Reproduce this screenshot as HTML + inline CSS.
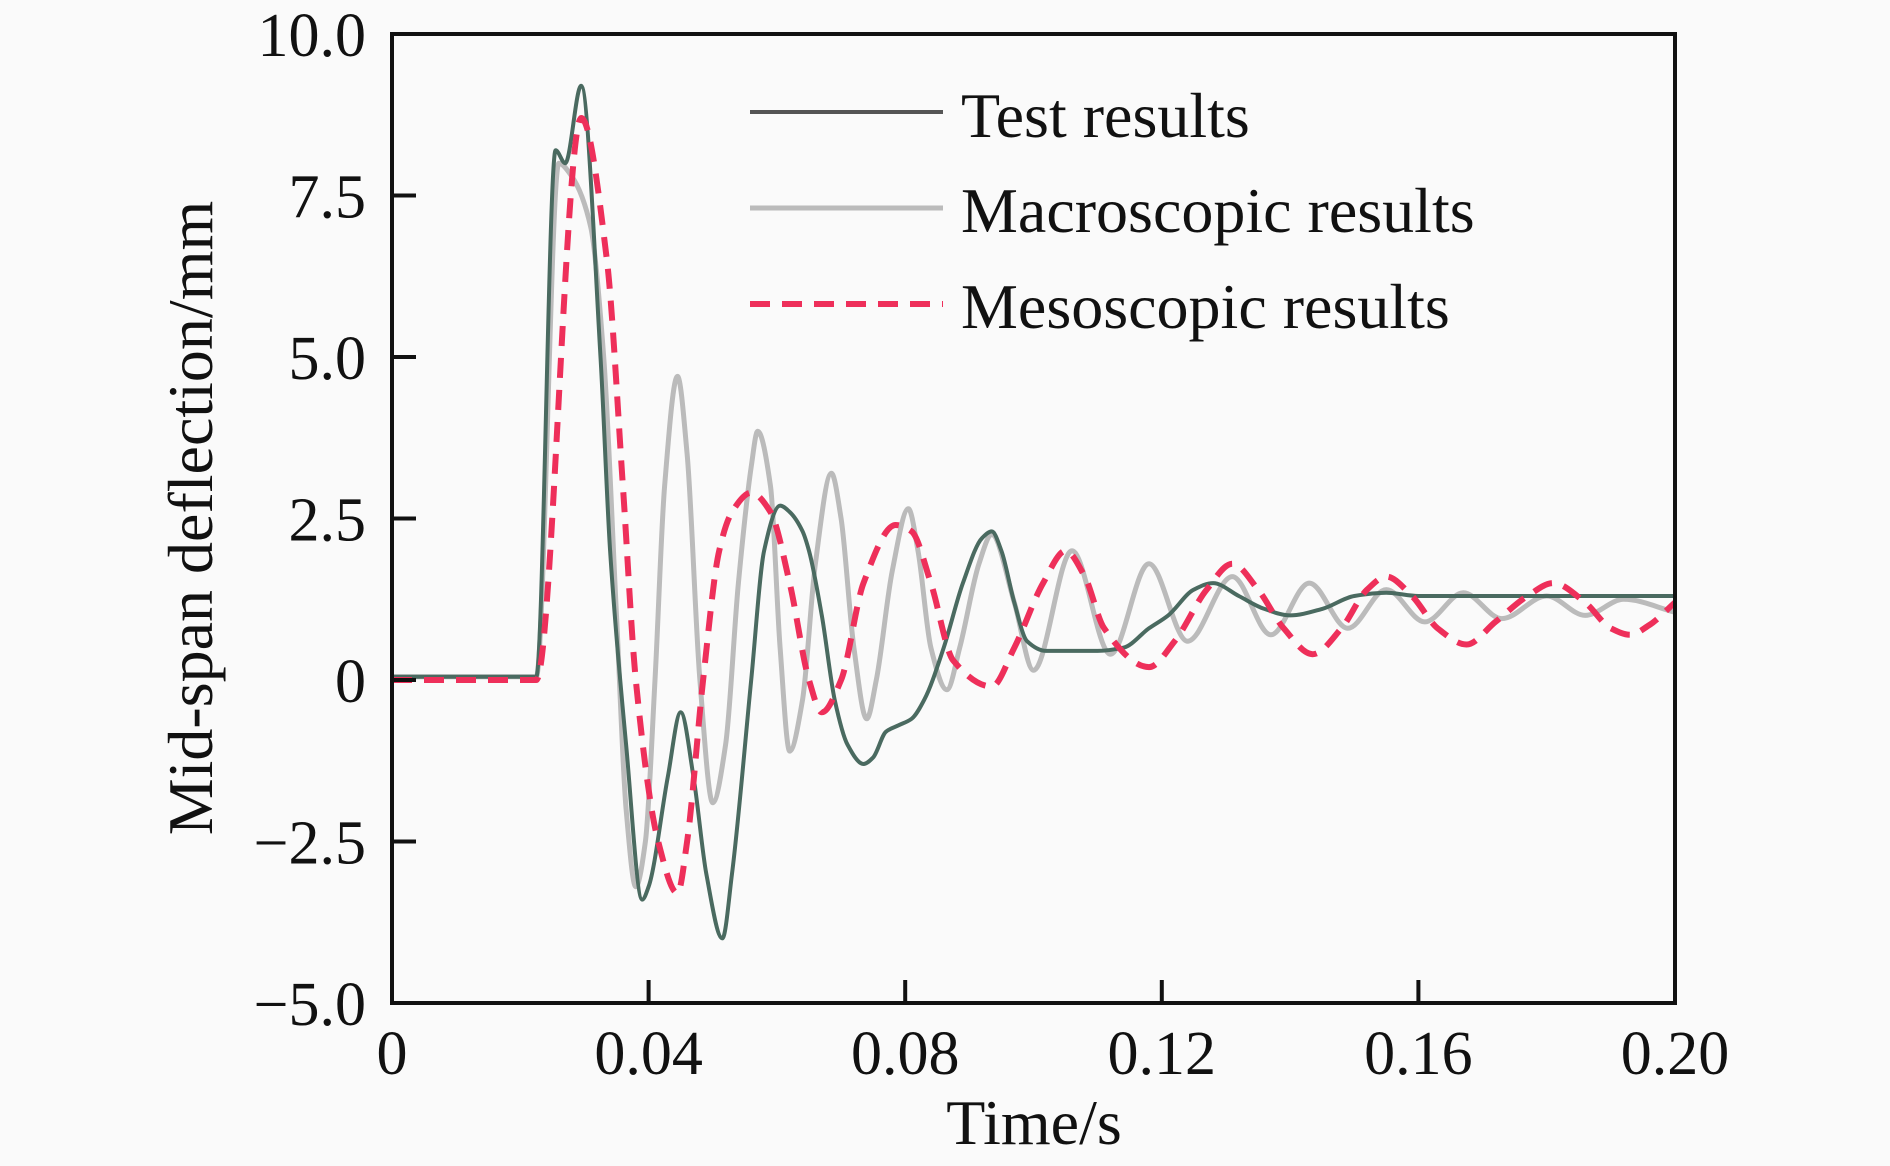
<!DOCTYPE html>
<html><head><meta charset="utf-8">
<style>
html,body{margin:0;padding:0;background:#fafafa;}
svg{display:block;font-family:"Liberation Serif",serif;}
</style></head>
<body>
<svg id="chart" width="1890" height="1166" viewBox="0 0 1890 1166" xmlns="http://www.w3.org/2000/svg">
<rect x="0" y="0" width="1890" height="1166" fill="#fafafa"/>
<g id="plot"></g>
<g id="axes"></g>
<text x="1034" y="1144" font-size="64" text-anchor="middle" fill="#111">Time/s</text>
<text transform="translate(212,518) rotate(-90)" font-size="64" text-anchor="middle" fill="#111">Mid-span deflection/mm</text>
<g>
<g>
<line x1="750" y1="112" x2="943" y2="112" stroke="#555" stroke-width="4"/>
<text x="961" y="137" font-size="64" fill="#111">Test results</text></g>
<g>
<line x1="750" y1="208" x2="943" y2="208" stroke="#bbb" stroke-width="5"/>
<text x="961" y="232" font-size="64" fill="#111">Macroscopic results</text></g>
<g>
<line x1="750" y1="304" x2="943" y2="304" stroke="#ee2f5a" stroke-width="6" stroke-dasharray="20,12"/>
<text x="961" y="328" font-size="64" fill="#111">Mesoscopic results</text></g>
</g>
</svg>
<script>
const xTicks=[0,0.04,0.08,0.12,0.16,0.20];
const xTickLabels=["0","0.04","0.08","0.12","0.16","0.20"];
const yTicks=[-5,-2.5,0,2.5,5,7.5,10];
const yTickLabels=["\u22125.0","\u22122.5","0","2.5","5.0","7.5","10.0"];
const testT=[0,0.005,0.01,0.015,0.0225,0.0255,0.027,0.0295,0.0325,0.034,0.0365,0.039,0.040,0.043,0.045,0.047,0.049,0.0515,0.053,0.056,0.058,0.0605,0.062,0.064,0.065,0.067,0.069,0.071,0.0735,0.075,0.077,0.079,0.081,0.083,0.086,0.089,0.092,0.0935,0.095,0.097,0.099,0.102,0.11,0.114,0.118,0.121,0.125,0.128,0.132,0.136,0.14,0.145,0.15,0.155,0.16,0.2];
const testY=[0.05,0.05,0.05,0.05,0.05,8.2,8.0,9.2,5.0,2.0,-1,-3.4,-3.2,-1.5,-0.5,-1.5,-3.0,-4.0,-3,0,2.0,2.7,2.6,2.3,2.0,1.0,-0.3,-1.0,-1.3,-1.2,-0.8,-0.7,-0.6,-0.3,0.5,1.5,2.2,2.3,2.0,1.2,0.6,0.45,0.45,0.5,0.8,1.0,1.4,1.5,1.3,1.1,1.0,1.1,1.3,1.35,1.3,1.3];
const macroT=[0,0.0225,0.026,0.028,0.031,0.033,0.035,0.0365,0.038,0.0395,0.041,0.0425,0.0445,0.046,0.048,0.050,0.052,0.054,0.056,0.057,0.059,0.0605,0.062,0.064,0.066,0.0685,0.070,0.072,0.074,0.0755,0.078,0.0805,0.082,0.084,0.0865,0.0885,0.0915,0.0935,0.097,0.1,0.106,0.112,0.118,0.124,0.131,0.137,0.143,0.149,0.155,0.161,0.167,0.173,0.18,0.186,0.192,0.2];
const macroY=[0.05,0.05,8.0,7.8,7.0,5,1,-2,-3.2,-2.5,0,3,4.7,3.5,0,-1.9,-1,1.5,3.3,3.85,3,0.5,-1.1,-0.3,1.8,3.2,2.5,0.5,-0.6,0,1.7,2.65,2,0.5,-0.15,0.5,1.8,2.25,1.2,0.15,2.0,0.4,1.8,0.6,1.6,0.7,1.5,0.8,1.4,0.9,1.35,0.95,1.3,1.0,1.25,1.05];
const mesoT=[0,0.0225,0.0295,0.0335,0.036,0.038,0.0415,0.0445,0.046,0.0485,0.051,0.053,0.056,0.059,0.062,0.065,0.067,0.070,0.0735,0.0785,0.081,0.084,0.0875,0.0935,0.097,0.1015,0.105,0.108,0.111,0.118,0.122,0.127,0.131,0.135,0.139,0.1435,0.148,0.152,0.155,0.159,0.163,0.1675,0.172,0.177,0.181,0.186,0.19,0.193,0.196,0.2];
const mesoY=[0,0,8.7,6.5,3,0,-2.5,-3.3,-2.5,0,2,2.6,2.9,2.6,1.5,0,-0.5,0,1.5,2.4,2.3,1.5,0.3,-0.1,0.5,1.5,2.0,1.6,0.8,0.2,0.6,1.4,1.8,1.4,0.8,0.4,0.8,1.4,1.6,1.3,0.8,0.55,0.9,1.3,1.5,1.2,0.8,0.7,0.85,1.2];

const L=392,R=1675,T=34,B=1003;
const xs=t=>L+(t-0)/(0.2-0)*(R-L);
const ys=v=>B-(v+5)/15*(B-T);
const NS="http://www.w3.org/2000/svg";
function path(tArr,yArr){
  const x=tArr.map(xs),y=yArr.map(ys),n=x.length;
  const d=[],m=[];
  for(let i=0;i<n-1;i++)d.push((y[i+1]-y[i])/(x[i+1]-x[i]));
  m[0]=d[0];m[n-1]=d[n-2];
  for(let i=1;i<n-1;i++){
    if(d[i-1]*d[i]<=0)m[i]=0;
    else{const h0=x[i]-x[i-1],h1=x[i+1]-x[i];
      m[i]=3*(h0+h1)/((2*h1+h0)/d[i-1]+(h1+2*h0)/d[i]);}
  }
  let s="M"+x[0].toFixed(1)+","+y[0].toFixed(1);
  for(let i=0;i<n-1;i++){
    const h=(x[i+1]-x[i])/3;
    s+=" C"+(x[i]+h).toFixed(1)+","+(y[i]+m[i]*h).toFixed(1)+" "+(x[i+1]-h).toFixed(1)+","+(y[i+1]-m[i+1]*h).toFixed(1)+" "+x[i+1].toFixed(1)+","+y[i+1].toFixed(1);
  }
  return s;
}
const plot=document.getElementById('plot');
function addLine(tA,yA,color,w,dash,name){
  const el=document.createElementNS(NS,'path');
  el.setAttribute('d',path(tA,yA));
  el.setAttribute('fill','none');
  el.setAttribute('stroke',color);
  el.setAttribute('stroke-width',w);
  el.setAttribute('stroke-linejoin','round');
  if(dash)el.setAttribute('stroke-dasharray',dash);
  
  
  plot.appendChild(el);
}
addLine(macroT,macroY,'#bbbbbb',5,null,'macroscopic-line');
addLine(testT,testY,'#4a6a60',4,null,'test-line');
addLine(mesoT,mesoY,'#ee2f5a',6,'20,12','mesoscopic-line');

const axes=document.getElementById('axes');
const frame=document.createElementNS(NS,'rect');
frame.setAttribute('x',L);frame.setAttribute('y',T);
frame.setAttribute('width',R-L);frame.setAttribute('height',B-T);
frame.setAttribute('fill','none');frame.setAttribute('stroke','#111');frame.setAttribute('stroke-width','4');


axes.appendChild(frame);
xTicks.forEach((t,i)=>{
  const ln=document.createElementNS(NS,'line');
  ln.setAttribute('x1',xs(t));ln.setAttribute('x2',xs(t));
  ln.setAttribute('y1',B);ln.setAttribute('y2',B-23);
  ln.setAttribute('stroke','#111');ln.setAttribute('stroke-width','4');
  
  
  axes.appendChild(ln);
  const tx=document.createElementNS(NS,'text');
  tx.setAttribute('x',xs(t));tx.setAttribute('y',1074);
  tx.setAttribute('font-size','62');tx.setAttribute('text-anchor','middle');tx.setAttribute('fill','#111');
  tx.textContent=xTickLabels[i];
  
  
  axes.appendChild(tx);
});
yTicks.forEach((v,i)=>{
  const ln=document.createElementNS(NS,'line');
  ln.setAttribute('x1',L);ln.setAttribute('x2',L+24);
  ln.setAttribute('y1',ys(v));ln.setAttribute('y2',ys(v));
  ln.setAttribute('stroke','#111');ln.setAttribute('stroke-width','4');
  
  
  axes.appendChild(ln);
  const tx=document.createElementNS(NS,'text');
  tx.setAttribute('x',366);tx.setAttribute('y',ys(v)+22);
  tx.setAttribute('font-size','62');tx.setAttribute('text-anchor','end');tx.setAttribute('fill','#111');
  tx.textContent=yTickLabels[i];
  
  
  axes.appendChild(tx);
});
</script>
</body></html>
